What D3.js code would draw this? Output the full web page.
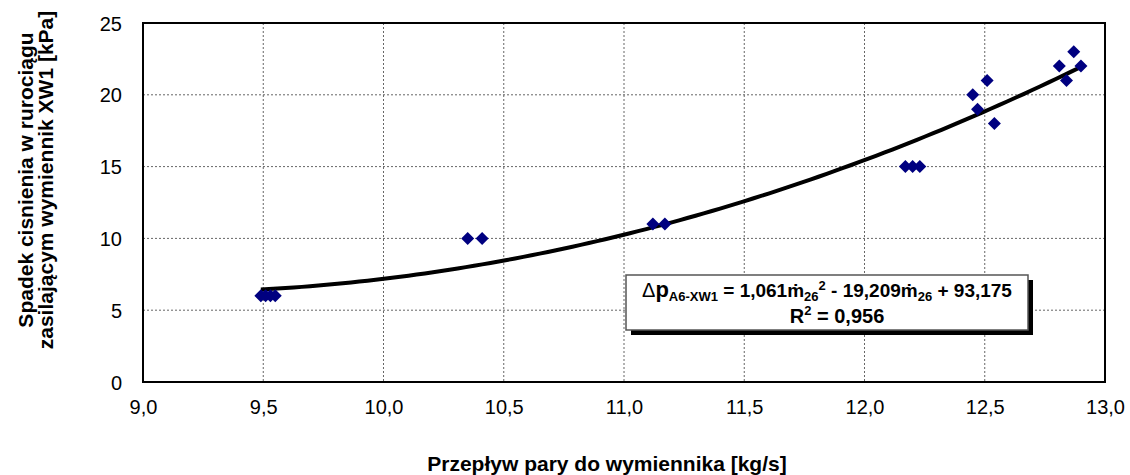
<!DOCTYPE html>
<html>
<head>
<meta charset="utf-8">
<script src="https://cdn.jsdelivr.net/npm/d3@7"></script>
<style>
  body { margin: 0; background: #fff; }
  text { font-family: Arial, "Liberation Sans", sans-serif; }
</style>
</head>
<body>
<div id="chart"></div>
<script>
// measured values
var flow = [9.49, 9.51, 9.53, 9.55, 10.35, 10.41, 11.12, 11.17, 12.17, 12.20, 12.23, 12.45, 12.47, 12.51, 12.54, 12.81, 12.84, 12.87, 12.90];
var dp = [6, 6, 6, 6, 10, 10, 11, 11, 15, 15, 15, 20, 19, 21, 18, 22, 21, 23, 22];
var xTicks = [9.0, 9.5, 10.0, 10.5, 11.0, 11.5, 12.0, 12.5, 13.0];
var yTicks = [0, 5, 10, 15, 20, 25];
// polynomial trend: a*x^2 + b*x + c
var trendCoef = [1.061, -19.209, 93.175];

var width = 1130;
var height = 475;
var margin = { left: 143, top: 23, right: 25, bottom: 93 };
var svg, xScale, yScale;

document.addEventListener('DOMContentLoaded', function () {
    svg = d3.select("#chart").append("svg")
        .attr("width", width)
        .attr("height", height);

    var pw = width - margin.left - margin.right;
    var ph = height - margin.top - margin.bottom;

    xScale = d3.scaleLinear().domain([9, 13]).range([0, pw]);
    yScale = d3.scaleLinear().domain([0, 25]).range([ph, 0]);

    var g = svg.append("g").attr("transform", "translate(" + margin.left + "," + margin.top + ")");

    // grid
    g.selectAll(".gx").data(xTicks.slice(1, -1)).enter().append("line")
        .attr("x1", d => xScale(d)).attr("x2", d => xScale(d))
        .attr("y1", 0).attr("y2", ph)
        .attr("stroke", "#666").attr("stroke-width", 1).attr("stroke-dasharray", "2,2");
    g.selectAll(".gy").data(yTicks.slice(1, -1)).enter().append("line")
        .attr("y1", d => yScale(d)).attr("y2", d => yScale(d))
        .attr("x1", 0).attr("x2", pw)
        .attr("stroke", "#666").attr("stroke-width", 1).attr("stroke-dasharray", "2,2");

    // plot border
    g.append("rect").attr("x", 0).attr("y", 0).attr("width", pw).attr("height", ph)
        .attr("fill", "none").attr("stroke", "#000").attr("stroke-width", 2);

    // axes labels
    var xAxis = d3.axisBottom(xScale).tickValues(xTicks).tickSize(0).tickPadding(0)
        .tickFormat(d => d3.format(".1f")(d).replace(".", ","));
    var xa = g.append("g").attr("transform", "translate(0," + ph + ")").call(xAxis);
    xa.select(".domain").remove();
    xa.selectAll("text").attr("y", 32).attr("dy", 0).attr("font-size", 20).attr("fill", "#000")
        .style("font-family", "Arial, 'Liberation Sans', sans-serif");

    var yAxis = d3.axisLeft(yScale).tickValues(yTicks).tickSize(0).tickPadding(21);
    var ya = g.append("g").call(yAxis);
    ya.select(".domain").remove();
    ya.selectAll("text").attr("font-size", 20).attr("fill", "#000").attr("dy", "0.35em")
        .style("font-family", "Arial, 'Liberation Sans', sans-serif");

    // trend line
    var x0 = d3.min(flow), x1 = d3.max(flow);
    var xs = d3.range(0, 101).map(i => x0 + (x1 - x0) * i / 100);
    var line = d3.line()
        .x(d => xScale(d))
        .y(d => yScale(trendCoef[0] * d * d + trendCoef[1] * d + trendCoef[2]));
    g.append("path").datum(xs).attr("d", line)
        .attr("fill", "none").attr("stroke", "#000").attr("stroke-width", 4);

    // markers
    g.selectAll(".pt").data(flow).enter().append("path")
        .attr("d", "M0,-6.5L6.5,0L0,6.5L-6.5,0Z")
        .attr("transform", (d, i) => "translate(" + xScale(d) + "," + yScale(dp[i]) + ")")
        .attr("fill", "#000080");

    // equation box
    var bx = 626, by = 275, bw = 402, bh = 55;
    svg.append("rect").attr("x", bx + 5).attr("y", by + 5).attr("width", bw).attr("height", bh).attr("fill", "#000");
    svg.append("rect").attr("x", bx).attr("y", by).attr("width", bw).attr("height", bh)
        .attr("fill", "#fff").attr("stroke", "#555").attr("stroke-width", 1.5);

    var eq = svg.append("text").attr("x", bx + bw / 2).attr("y", by + 22)
        .attr("text-anchor", "middle").attr("font-size", 19).attr("font-weight", "bold");
    eq.append("tspan").text("\u0394").attr("font-weight", "normal").attr("font-size", 20);
    eq.append("tspan").text("p").attr("font-size", 22);
    eq.append("tspan").text("A6-XW1").attr("font-size", 13).attr("dy", 4);
    eq.append("tspan").text(" = 1,061\u1E41").attr("dy", -4);
    eq.append("tspan").text("26").attr("font-size", 13).attr("dy", 4);
    eq.append("tspan").text("2").attr("font-size", 13).attr("dy", -11);
    eq.append("tspan").text(" - 19,209\u1E41").attr("dy", 7);
    eq.append("tspan").text("26").attr("font-size", 13).attr("dy", 4);
    eq.append("tspan").text(" + 93,175").attr("dy", -4);

    var r2 = svg.append("text").attr("x", bx + bw / 2 + 10).attr("y", by + 48)
        .attr("text-anchor", "middle").attr("font-size", 20).attr("font-weight", "bold");
    r2.append("tspan").text("R");
    r2.append("tspan").text("2").attr("font-size", 13).attr("dy", -8);
    r2.append("tspan").text(" = 0,956").attr("dy", 8);

    // axis titles
    svg.append("text").attr("x", 607).attr("y", 471).attr("text-anchor", "middle")
        .attr("font-size", 21).attr("font-weight", "bold").text("Przepływ pary do wymiennika [kg/s]");

    var yt = svg.append("text").attr("transform", "translate(33,180) rotate(-90)")
        .attr("text-anchor", "middle").attr("font-size", 21).attr("font-weight", "bold");
    yt.append("tspan").attr("x", 0).attr("y", 0).text("Spadek cisnienia w rurociągu");
    yt.append("tspan").attr("x", 0).attr("y", 20).text("zasilającym wymiennik XW1 [kPa]");
});
</script>
</body>
</html>
